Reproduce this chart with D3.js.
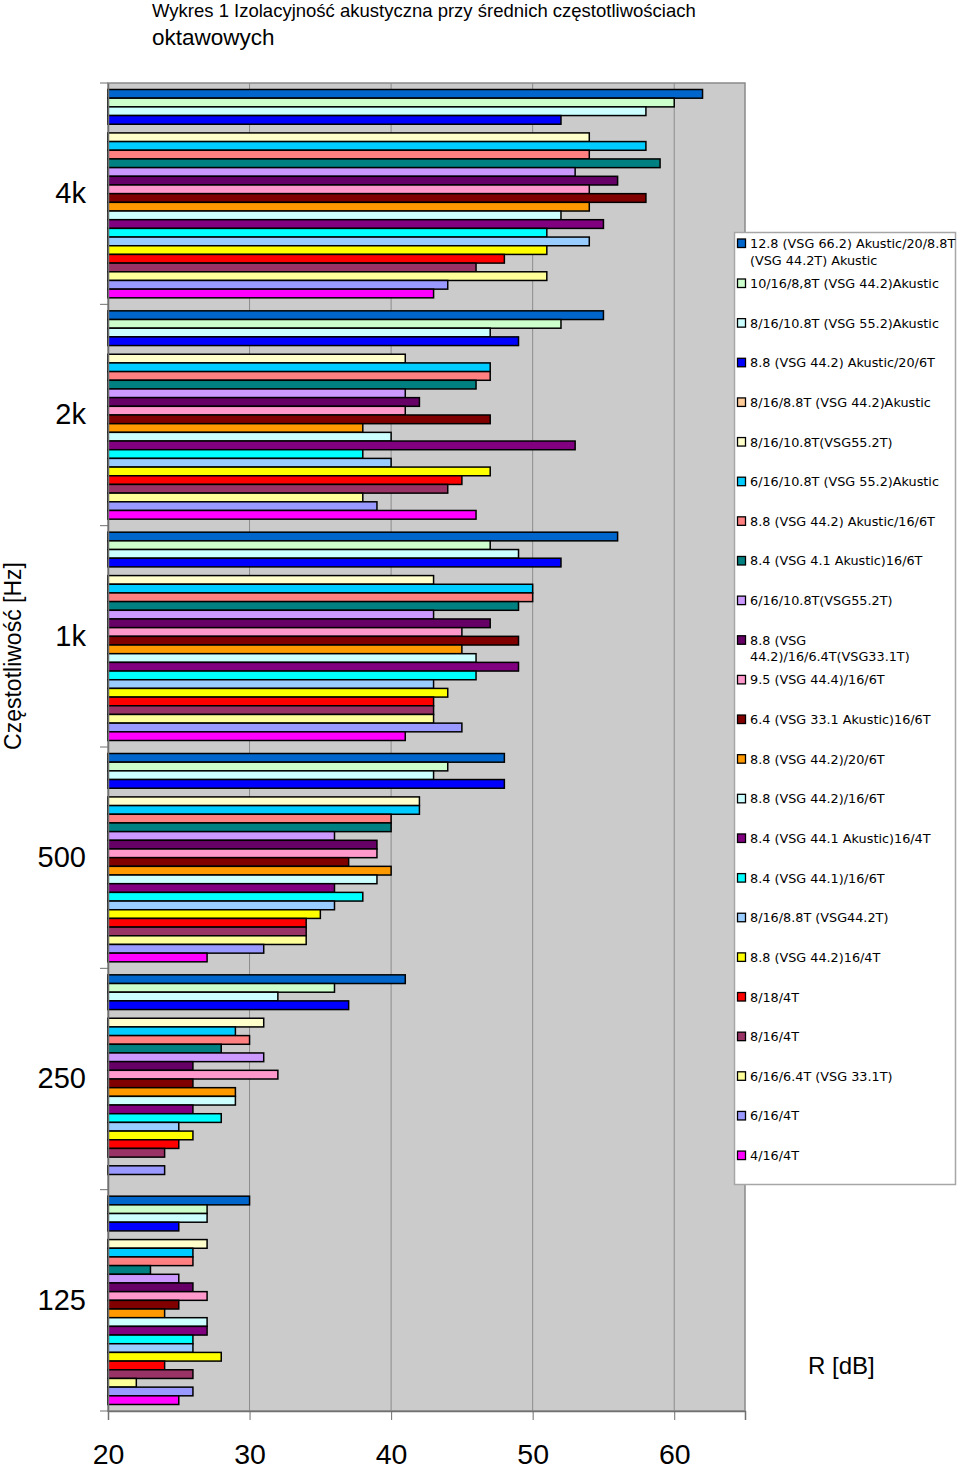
<!DOCTYPE html>
<html><head><meta charset="utf-8">
<script src="https://cdn.jsdelivr.net/npm/d3@7"></script>
<style>body{margin:0;background:#fff}svg{display:block}</style>
</head><body>
<svg id="c" width="960" height="1470"></svg>
<script>
const categories = ["4k","2k","1k","500","250","125"];
const seriesNames = [
  ["12.8 (VSG 66.2) Akustic/20/8.8T","(VSG 44.2T) Akustic"],
  ["10/16/8,8T (VSG 44.2)Akustic"],
  ["8/16/10.8T (VSG 55.2)Akustic"],
  ["8.8 (VSG 44.2) Akustic/20/6T"],
  ["8/16/8.8T (VSG 44.2)Akustic"],
  ["8/16/10.8T(VSG55.2T)"],
  ["6/16/10.8T (VSG 55.2)Akustic"],
  ["8.8 (VSG 44.2) Akustic/16/6T"],
  ["8.4 (VSG 4.1 Akustic)16/6T"],
  ["6/16/10.8T(VSG55.2T)"],
  ["8.8 (VSG","44.2)/16/6.4T(VSG33.1T)"],
  ["9.5 (VSG 44.4)/16/6T"],
  ["6.4 (VSG 33.1 Akustic)16/6T"],
  ["8.8 (VSG 44.2)/20/6T"],
  ["8.8 (VSG 44.2)/16/6T"],
  ["8.4 (VSG 44.1 Akustic)16/4T"],
  ["8.4 (VSG 44.1)/16/6T"],
  ["8/16/8.8T (VSG44.2T)"],
  ["8.8 (VSG 44.2)16/4T"],
  ["8/18/4T"],
  ["8/16/4T"],
  ["6/16/6.4T (VSG 33.1T)"],
  ["6/16/4T"],
  ["4/16/4T"]
];
const seriesColors = ["#0066cc","#ccffcc","#ccffff","#0000ff","#ffcc99","#ffffcc","#00ccff","#ff8080",
  "#008080","#cc99ff","#660066","#ff99cc","#800000","#ff9900","#ccffff","#800080","#00ffff","#99ccff",
  "#ffff00","#ff0000","#993366","#ffff99","#9999ff","#ff00ff"];
// R [dB] per series for each frequency band (null = no bar)
const r4k  = [62,60,58,52,null,54,58,54,59,53,56,54,58,54,52,55,51,54,51,48,46,51,44,43];
const r2k  = [55,52,47,49,null,41,47,47,46,41,42,41,47,38,40,53,38,40,47,45,44,38,39,46];
const r1k  = [56,47,49,52,null,43,50,50,49,43,47,45,49,45,46,49,46,43,44,43,43,43,45,41];
const r500 = [48,44,43,48,null,42,42,40,40,36,39,39,37,40,39,36,38,36,35,34,34,34,31,27];
const r250 = [41,36,32,37,null,31,29,30,28,31,26,32,26,29,29,26,28,25,26,25,24,null,24,null];
const r125 = [30,27,27,25,null,27,26,26,23,25,26,27,25,24,27,27,26,26,28,24,26,22,26,25];
const xTicks = [20,30,40,50,60];
const titleLines = ["Wykres 1 Izolacyjność akustyczna przy średnich częstotliwościach","oktawowych"];

const valuesByCat = [r4k,r2k,r1k,r500,r250,r125];
const svg = d3.select("#c");
const L=108, R=745, T=83, B=1411;
const x = d3.scaleLinear().domain([20,65]).range([L,R]);
const y0 = d3.scaleBand().domain(categories).range([T,B]).paddingInner(0).paddingOuter(0);
const y1 = d3.scaleBand().domain(d3.range(seriesNames.length)).range([0,y0.bandwidth()]).paddingInner(0).paddingOuter(0.75);
const FONT = "Liberation Sans, Arial, sans-serif";

// title
svg.append("text").attr("x",152).attr("y",17).attr("font-family",FONT).attr("font-size",18.5).text(titleLines[0]);
svg.append("text").attr("x",152).attr("y",45).attr("font-family",FONT).attr("font-size",22.5).text(titleLines[1]);

// plot area
svg.append("rect").attr("x",L).attr("y",T).attr("width",R-L).attr("height",B-T)
  .attr("fill","#cbcbcb").attr("stroke","#8a8a8a").attr("stroke-width",1.5);
svg.append("g").selectAll("line").data(xTicks.slice(1)).join("line")
  .attr("x1",d=>x(d)).attr("x2",d=>x(d)).attr("y1",T).attr("y2",B)
  .attr("stroke","#8c8c8c").attr("stroke-width",1);

// bars
const groups = svg.append("g").selectAll("g").data(categories).join("g")
  .attr("transform",c=>`translate(0,${y0(c)})`);
groups.selectAll("rect").data((c,ci)=>valuesByCat[ci].map((v,si)=>({v,si})).filter(d=>d.v!=null))
  .join("rect")
  .attr("x",x(20)).attr("y",d=>y1(d.si)).attr("height",y1.bandwidth())
  .attr("width",d=>x(d.v)-x(20))
  .attr("fill",d=>seriesColors[d.si]).attr("stroke","#000").attr("stroke-width",1.5);

// axes
const xa = svg.append("g").attr("transform",`translate(0,${B})`)
  .call(d3.axisBottom(x).tickValues(xTicks).tickSize(9).tickPadding(24).tickFormat(d3.format("d")));
xa.select(".domain").attr("stroke","#707070").attr("stroke-width",1.5);
xa.selectAll(".tick line").attr("stroke","#707070");
xa.selectAll("text").attr("font-family",FONT).attr("font-size",28.5).attr("fill","#000");

const ya = svg.append("g").attr("transform",`translate(${L},0)`)
  .call(d3.axisLeft(y0).tickSize(0).tickPadding(22));
ya.select(".domain").attr("stroke","#707070").attr("stroke-width",1.5);
ya.selectAll("text").attr("font-family",FONT).attr("font-size",29).attr("fill","#000");
svg.append("g").selectAll("line").data(d3.range(categories.length+1)).join("line")
  .attr("x1",L-8).attr("x2",L).attr("y1",i=>T+i*y0.step()).attr("y2",i=>T+i*y0.step())
  .attr("stroke","#707070").attr("stroke-width",1);

// axis titles
svg.append("text").attr("transform","translate(21,656) rotate(-90)").attr("text-anchor","middle")
  .attr("font-family",FONT).attr("font-size",23).text("Częstotliwość [Hz]");
svg.append("text").attr("x",808).attr("y",1374)
  .attr("font-family",FONT).attr("font-size",24).text("R [dB]");

// legend
const lg = svg.append("g");
lg.append("rect").attr("x",734.5).attr("y",232.5).attr("width",221).attr("height",952)
  .attr("fill","#fff").attr("stroke","#a6a6a6").attr("stroke-width",1.5);
const ly = i => i===0 ? 243.5 : 283.5 + (i-1)*39.64;
const items = lg.selectAll("g.it").data(seriesNames).join("g").attr("class","it")
  .attr("transform",(d,i)=>`translate(0,${ly(i)})`);
items.append("rect").attr("x",737.5).attr("y",-4.5).attr("width",8).attr("height",8.5)
  .attr("fill",(d,i)=>seriesColors[i]).attr("stroke","#000").attr("stroke-width",1.3);
items.each(function(d){
  const t = d3.select(this).append("text").attr("font-family","DejaVu Sans, Verdana, sans-serif")
    .attr("font-size",12.8).attr("fill","#000");
  d.forEach((line,k)=>t.append("tspan").attr("x",750).attr("y",4.5+k*16.5).text(line));
});
</script>
</body></html>
